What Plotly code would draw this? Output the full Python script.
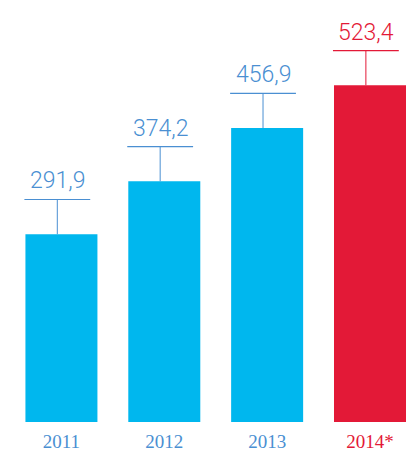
import plotly.graph_objects as go

years = ["2011", "2012", "2013", "2014*"]
values = [291.9, 374.2, 456.9, 523.4]
value_labels = ["291,9", "374,2", "456,9", "523,4"]

BLUE_BAR = "#00b7ee"
RED_BAR = "#e31937"
BLUE_TXT = "#4a8fd2"
RED_TXT = "#e31937"

xs = list(range(len(years)))
bar_colors = [BLUE_BAR, BLUE_BAR, BLUE_BAR, RED_BAR]
txt_colors = [BLUE_TXT, BLUE_TXT, BLUE_TXT, RED_TXT]

fig = go.Figure()
fig.add_trace(go.Bar(x=xs, y=values, marker=dict(color=bar_colors, line=dict(width=0)),
                     width=0.70, hoverinfo="skip"))

OFF = 54  # gap between bar top and the label line, in data units
shapes = []
annotations = []
for x, v, lab, c in zip(xs, values, value_labels, txt_colors):
    shapes.append(dict(type="line", xref="x", yref="y", x0=x - 0.04, x1=x - 0.04,
                       y0=v, y1=v + OFF, line=dict(color=c, width=1)))
    shapes.append(dict(type="line", xref="x", yref="y", x0=x - 0.36, x1=x + 0.28,
                       y0=v + OFF, y1=v + OFF, line=dict(color=c, width=1.2)))
    annotations.append(dict(x=x - 0.04, y=v + OFF, xref="x", yref="y", text=lab,
                            showarrow=False, yanchor="bottom", yshift=3,
                            font=dict(family="Roboto", size=23, color=c, weight=300)))

ticktext = [f"<span style='color:{c}'>{y}</span>" for y, c in zip(years, txt_colors)]

fig.update_layout(
    width=406, height=453,
    margin=dict(l=10, r=0, t=0, b=31),
    plot_bgcolor="white", paper_bgcolor="white",
    showlegend=False,
    shapes=shapes, annotations=annotations,
    xaxis=dict(range=[-0.5, 3.35], tickvals=xs, ticktext=ticktext, showgrid=False,
               zeroline=False, showline=False, ticks="", ticklabelstandoff=6,
               tickfont=dict(family="Liberation Serif", size=19, color=BLUE_TXT)),
    yaxis=dict(range=[0, 656], visible=False, showgrid=False, zeroline=False),
)

fig.write_html("out.html", config={"displayModeBar": False},
               post_script="document.body.style.margin='0';")
